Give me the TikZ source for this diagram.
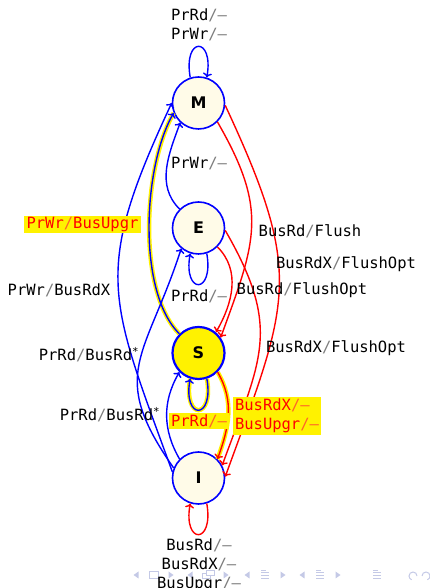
\documentclass[tikz,border=0pt]{standalone}
\usepackage{fontspec}
\newfontfamily\lblfont{DejaVu Sans Mono}
\newfontfamily\statefont{DejaVu Sans}
\usetikzlibrary{arrows.meta}
\definecolor{cream}{RGB}{255,251,232}
\definecolor{navc}{RGB}{196,201,230}
\definecolor{slashg}{RGB}{125,125,125}
\definecolor{slashr}{RGB}{255,100,40}
\newcommand{\sg}{{\color{slashg}/}}
\newcommand{\dg}{{\color{slashg}–}}
\newcommand{\sr}{{\color{slashr}/}}
\newcommand{\dr}{{\color{slashr}–}}
\begin{document}
\begin{tikzpicture}[x=1pt,y=1pt,
  state/.style={circle,draw=blue,line width=1.6pt,fill=cream,minimum size=52pt,inner sep=0pt,
    font=\statefont\bfseries\fontsize{16}{16}\selectfont},
  lbl/.style={font=\lblfont\fontsize{15.5}{19}\selectfont,align=center,inner sep=1pt},
  hl/.style={fill=yellow,text=red,inner xsep=2.5pt,inner ysep=1.5pt},
  arr/.style={-{To[length=4.5pt,width=9pt]},line width=1.4pt},
  hlpath/.style={preaction={draw=yellow,line width=4.4pt,arrows=-}}
]
\useasboundingbox (0,0) rectangle (430,588);
% navigation symbols
\foreach \x in {136,190,247,302} \fill[navc] (\x+2.5,9.5) -- (\x-2.5,13) -- (\x+2.5,16.5) -- cycle;
\foreach \x in {171,226,283,338} \fill[navc] (\x-2.5,9.5) -- (\x+2.5,13) -- (\x-2.5,16.5) -- cycle;
\draw[navc,line width=1pt] (149,9.5) rectangle (158,16.5);
\draw[navc,line width=1pt] (202,9) rectangle (210,14);
\draw[navc,line width=1pt,fill=white] (206,12) rectangle (214,17);
\foreach \x in {265,320,377} {
  \foreach \yy in {9,12,15} \draw[navc,line width=1pt] (\x-4,\yy) -- (\x+4,\yy);
  \draw[navc,line width=1pt] (\x-4,17.5) -- (\x+1,17.5);
}
\draw[navc,line width=1pt] (417,12) arc (0:250:4);
\draw[navc,line width=1pt] (422,12) arc (180:-70:4);
% states
\node[state] (M) at (198.5,485) {M};
\node[state] (E) at (198.5,360) {E};
\node[state,fill=yellow,line width=2.2pt] (S) at (198.5,235) {S};
\node[state] (I) at (198.5,110) {I};
% blue edges
\draw[arr,blue] (M.108) to[out=100,in=80,looseness=6.5] (M.72);
\draw[arr,blue] (E.135) to[out=135,in=250] (M.227);
\draw[arr,blue,hlpath] (S.135) to[out=135,in=240,looseness=0.7] (M.202);
\draw[arr,blue] (I.167) to[out=110,in=245,looseness=1.3] (M.180);
\draw[arr,blue] (E.-72) to[out=-80,in=-100,looseness=6.5] (E.-108);
\draw[arr,blue] (I.158) to[out=125,in=252,looseness=1.35] (E.230);
\draw[arr,blue,hlpath] (S.-72) to[out=-80,in=-100,looseness=6.5] (S.-108);
\draw[arr,blue] (I.135) to[out=120,in=240] (S.225);
% red edges
\draw[arr,red] (M.-45) to[out=-60,in=70,looseness=1.22] (S.35);
\draw[arr,red] (M.-5) to[out=-65,in=70,looseness=1.3] (I.3);
\draw[arr,red] (E.-45) to[out=-45,in=60] (S.50);
\draw[arr,red] (E.-5) to[out=-60,in=70,looseness=1.24] (I.28);
\draw[arr,red,hlpath] (S.-45) to[out=-60,in=70] (I.45);
\draw[arr,red] (I.-72) to[out=-80,in=-100,looseness=6.5] (I.-108);
% labels
\node[lbl] (lM) at (199,563) {PrRd\sg\dg\\PrWr\sg\dg};
\node[lbl] (lEM) at (199,424) {PrWr\sg\dg};
\node[lbl,hl] (lSM) at (82.5,363.5) {PrWr\sr BusUpgr};
\node[lbl] (lIM) at (59,298) {PrWr\sg BusRdX};
\node[lbl] (lE) at (199,292) {PrRd\sg\dg};
\node[lbl] (lMS) at (310,357) {BusRd\sg Flush};
\node[lbl] (lMI) at (346,324) {BusRdX\sg FlushOpt};
\node[lbl] (lES) at (302,298) {BusRd\sg FlushOpt};
\node[lbl] (lEI) at (336,240) {BusRdX\sg FlushOpt};
\node[lbl] (lIE) at (89,233) {PrRd\sg BusRd\textsuperscript{*}};
\node[lbl] (lIS) at (110,173) {PrRd\sg BusRd\textsuperscript{*}};
\node[lbl,hl] (lS) at (199,167) {PrRd\sr\dr};
\node[lbl,hl,align=left] (lSI) at (277,172) {BusRdX\sr\dr\\BusUpgr\sr\dr};
\node[lbl] (lI) at (199,23) {BusRd\sg\dg\\BusRdX\sg\dg\\BusUpgr\sg\dg};
\end{tikzpicture}
\end{document}
